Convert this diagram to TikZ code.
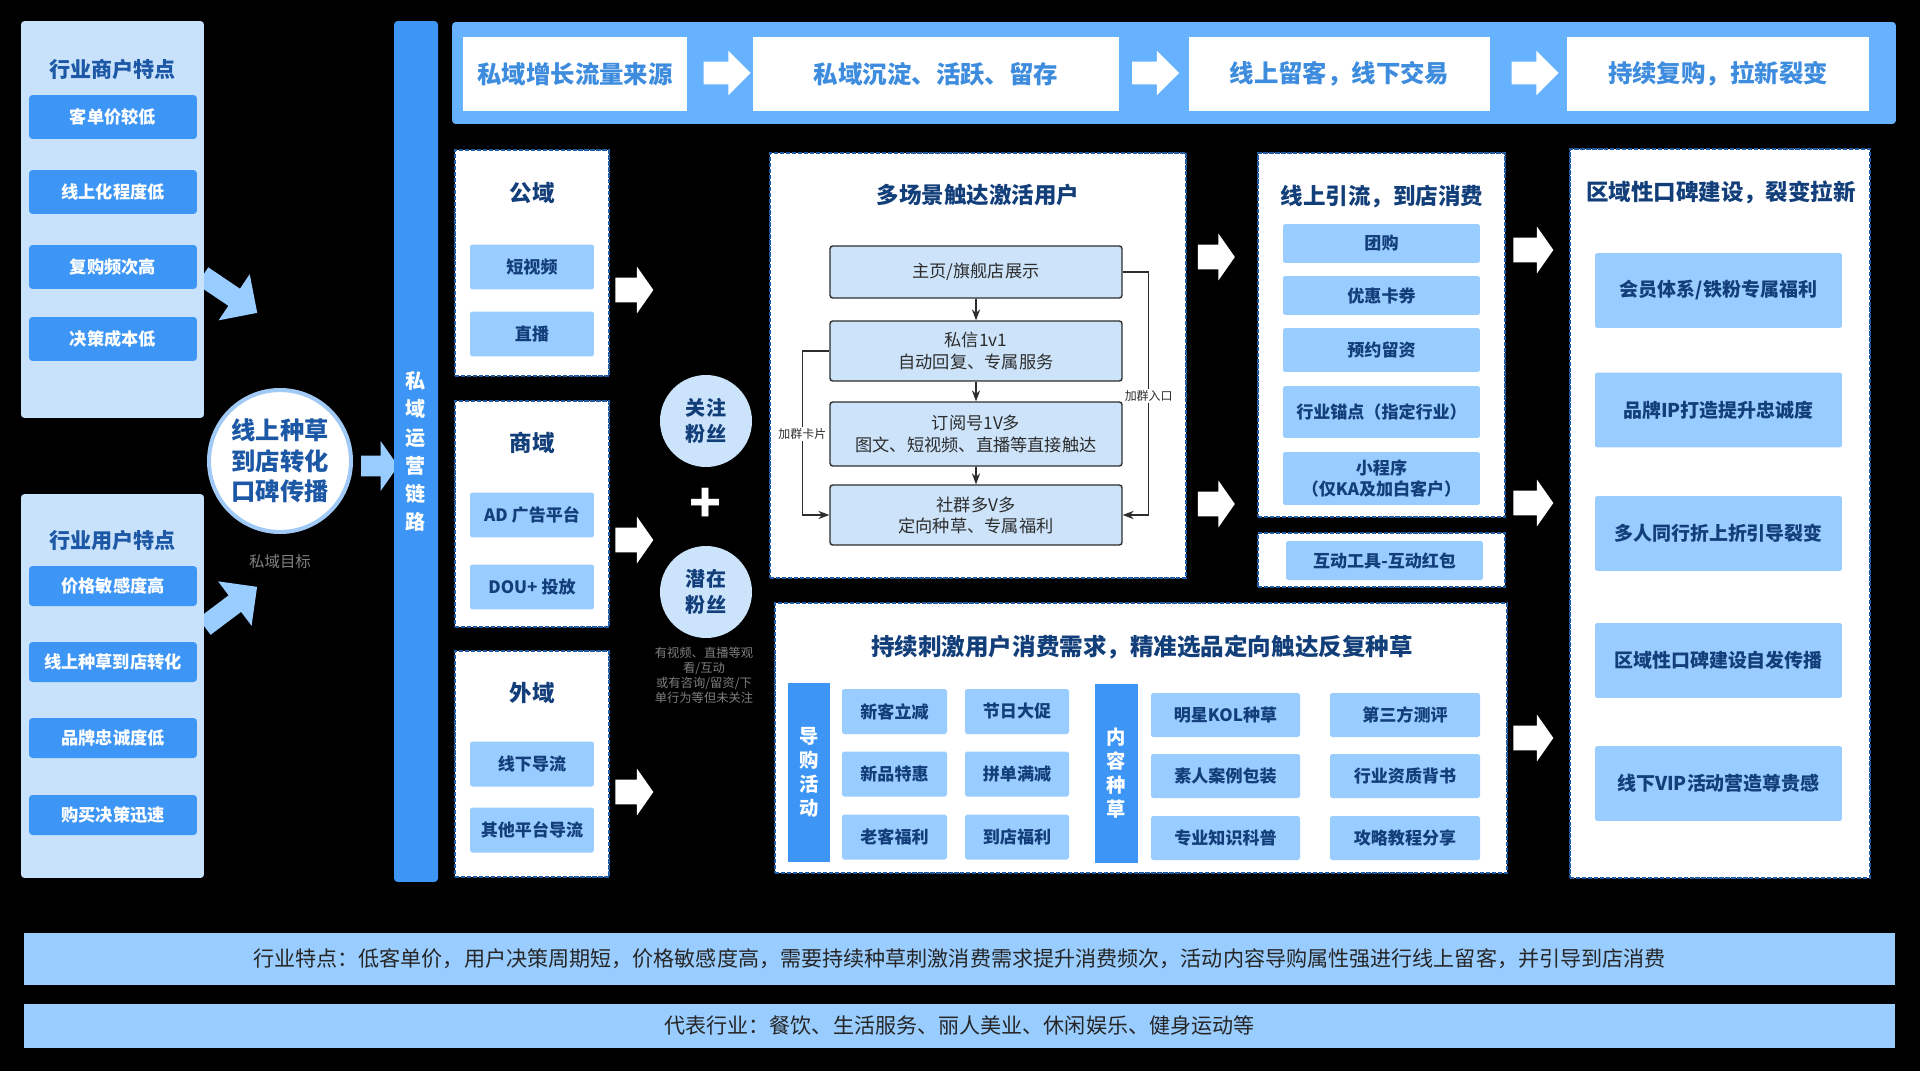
\documentclass[tikz,border=0pt]{standalone}
\usepackage{fontspec}
\setmainfont{Noto Sans CJK SC}
\usetikzlibrary{positioning,arrows.meta,shapes.arrows}
\definecolor{sidefill}{RGB}{200,226,252}
\definecolor{itemblue}{RGB}{61,150,245}
\definecolor{titleblue}{RGB}{28,88,165}
\definecolor{navy}{RGB}{18,62,122}
\definecolor{chipfill}{RGB}{153,204,255}
\definecolor{stagefill}{RGB}{102,178,255}
\definecolor{stagetext}{RGB}{62,140,222}
\definecolor{zonedraw}{RGB}{32,92,165}
\definecolor{flowfill}{RGB}{204,227,250}
\definecolor{flowdraw}{RGB}{45,45,45}
\definecolor{fanfill}{RGB}{204,228,251}
\definecolor{ringdraw}{RGB}{160,202,245}
\definecolor{notegray}{RGB}{128,128,128}

\begin{document}
\begin{tikzpicture}[x=0.02cm, y=-0.02cm,
  font=\fontsize{9.7}{12}\selectfont,
  sidepanel/.style={fill=sidefill, rounded corners=2pt, minimum width=3.66cm, inner sep=0pt},
  sidetitle/.style={text=titleblue, font=\fontsize{12}{14}\selectfont\bfseries},
  sideitem/.style={fill=itemblue, rounded corners=2pt, text=white, minimum width=3.36cm,
                   inner sep=0pt, font=\fontsize{9.8}{12}\selectfont\bfseries},
  zone/.style={draw=zonedraw, fill=white, line width=1.1pt, dash pattern=on 2.4pt off 1pt,
               inner sep=0pt},
  zonetitle/.style={text=navy, font=\fontsize{12.8}{15}\selectfont\bfseries},
  chip/.style={fill=chipfill, rounded corners=1pt, text=navy, inner sep=0pt, align=center,
               font=\fontsize{9.7}{12.5}\selectfont\bfseries},
  stagebox/.style={fill=white, inner sep=0pt, minimum height=1.48cm, text=stagetext,
                   font=\fontsize{13.9}{16}\selectfont\bfseries},
  flowbox/.style={fill=flowfill, draw=flowdraw, line width=0.8pt, rounded corners=1.5pt,
                  minimum width=5.84cm, inner sep=0pt, align=center, text=flowdraw,
                  font=\fontsize{9.8}{12}\selectfont},
  flowarrow/.style={-{Stealth[length=2.2mm]}, line width=0.7pt, draw=flowdraw},
  sidelabel/.style={fill=white, inner sep=1pt, text=flowdraw, font=\fontsize{6.8}{8}\selectfont},
  fatarrow/.style={single arrow, fill=white, inner xsep=0pt, inner ysep=0.24cm, minimum width=0.92cm,
                   minimum height=0.76cm, single arrow head extend=0.22cm, single arrow tip angle=110},
  softarrow/.style={single arrow, fill=chipfill, inner xsep=0pt, inner ysep=0.2cm, minimum width=1.1cm,
                    minimum height=1.32cm, single arrow head extend=0.35cm},
  vbar/.style={fill=itemblue, text=white, inner sep=0pt, align=center},
  fan/.style={circle, fill=fanfill, minimum size=1.84cm, inner sep=0pt, align=center,
              text=navy, font=\fontsize{11.4}{14.6}\selectfont\bfseries},
  banner/.style={fill=chipfill, minimum width=37.42cm, inner sep=0pt, text=black!85,
                 font=\fontsize{12}{14}\selectfont}
]
\useasboundingbox (0,0) rectangle (1920,1071);
\fill[black] (0,0) rectangle (1920,1071);

% Left: traits, feeding the goal
\node[softarrow, rotate=-34] (marrow) at (225.6,291.5) {};
\node[softarrow, rotate=37] (uarrow) at (226.6,609.8) {};

\node[sidepanel, minimum height=7.94cm] (merch) at (112.5,219.5) {};
\node[sidetitle] (merchtitle) at (112.5,70) {行业商户特点};
\node[sideitem, minimum height=0.88cm] (m1) at (113,117) {客单价较低};
\node[sideitem, minimum height=0.88cm] (m2) at (113,192) {线上化程度低};
\node[sideitem, minimum height=0.88cm] (m3) at (113,267) {复购频次高};
\node[sideitem, minimum height=0.88cm] (m4) at (113,339) {决策成本低};

\node[sidepanel, minimum height=7.68cm] (user) at (112.5,686) {};
\node[sidetitle] (usertitle) at (112.5,541) {行业用户特点};
\node[sideitem, minimum height=0.8cm] (u1) at (113,586) {价格敏感度高};
\node[sideitem, minimum height=0.8cm] (u2) at (113,662) {线上种草到店转化};
\node[sideitem, minimum height=0.8cm] (u3) at (113,738) {品牌忠诚度低};
\node[sideitem, minimum height=0.8cm] (u4) at (113,815) {购买决策迅速};

% Goal
\node[circle, fill=white, draw=ringdraw, line width=2.3pt, minimum size=2.84cm, inner sep=0pt,
      align=center, text=titleblue, font=\fontsize{13.8}{17.4}\selectfont\bfseries]
  (goal) at (280,461) {线上种草\\到店转化\\口碑传播};
\node[text=notegray, font=\fontsize{8.8}{10}\selectfont] (goalnote) at (280,562) {私域目标};
\node[softarrow, minimum width=0.98cm, minimum height=0.74cm, single arrow head extend=0.29cm,
      single arrow tip angle=110] (garrow) at (376,466) {};

\node[vbar, minimum width=0.88cm, minimum height=17.22cm, rounded corners=2pt,
      font=\fontsize{11.4}{16}\selectfont\bfseries] (chain) at (416,451.5)
  {私\\域\\运\\营\\链\\路};

% Top: stages of the private-domain chain
\node[fill=stagefill, rounded corners=2pt, minimum width=28.88cm, minimum height=2.04cm]
  (stagebar) at (1174,73) {};
\node[stagebox, minimum width=4.48cm] (s1) at (575,74) {私域增长流量来源};
\node[stagebox, minimum width=7.32cm] (s2) at (936,74) {私域沉淀、活跃、留存};
\node[stagebox, minimum width=6.02cm] (s3) at (1339.5,74) {线上留客，线下交易};
\node[stagebox, minimum width=6.04cm] (s4) at (1718,74) {持续复购，拉新裂变};
\node[fatarrow, inner ysep=0.22cm, minimum width=0.88cm, minimum height=0.94cm, single arrow tip angle=90] (sa1) at (721.5,73) {};
\node[fatarrow, inner ysep=0.22cm, minimum width=0.88cm, minimum height=0.94cm, single arrow tip angle=90] (sa2) at (1150,73) {};
\node[fatarrow, inner ysep=0.22cm, minimum width=0.88cm, minimum height=0.94cm, single arrow tip angle=90] (sa3) at (1529.5,73) {};

% Traffic sources
\node[zone, minimum width=3.08cm, minimum height=4.52cm] (pub) at (532,263) {};
\node[zonetitle] (pubtitle) at (532,193) {公域};
\node[chip, minimum width=2.48cm, minimum height=0.9cm] (pub1) at (532,267) {短视频};
\node[chip, minimum width=2.48cm, minimum height=0.9cm] (pub2) at (532,334) {直播};

\node[zone, minimum width=3.08cm, minimum height=4.52cm] (mall) at (532,514) {};
\node[zonetitle] (malltitle) at (532,443) {商域};
\node[chip, minimum width=2.48cm, minimum height=0.9cm] (mall1) at (532,515) {AD 广告平台};
\node[chip, minimum width=2.48cm, minimum height=0.9cm] (mall2) at (532,587) {DOU+ 投放};

\node[zone, minimum width=3.08cm, minimum height=4.52cm] (ext) at (532,764) {};
\node[zonetitle] (exttitle) at (532,693) {外域};
\node[chip, minimum width=2.48cm, minimum height=0.9cm] (ext1) at (532,764) {线下导流};
\node[chip, minimum width=2.48cm, minimum height=0.9cm] (ext2) at (532,830) {其他平台导流};

\node[fatarrow] (pa1) at (630,290) {};
\node[fatarrow] (pa2) at (630,540) {};
\node[fatarrow] (pa3) at (630,792) {};

% Fans
\node[fan] (fan1) at (706,421) {关注\\粉丝};
\node[text=white, font=\fontsize{30}{30}\selectfont\bfseries] (plus) at (706,505) {+};
\node[fan] (fan2) at (706,592) {潜在\\粉丝};
\node[text=notegray, align=center, font=\fontsize{7}{8.5}\selectfont] (fannote) at (704,675)
  {有视频、直播等观\\看/互动\\或有咨询/留资/下\\单行为等但未关注};

% Multi-scene reach
\node[zone, minimum width=8.32cm, minimum height=8.5cm] (reach) at (978,365.5) {};
\node[zonetitle] (reachtitle) at (978,195) {多场景触达激活用户};
\node[flowbox, minimum height=1.04cm] (f1) at (976,272) {主页/旗舰店展示};
\node[flowbox, minimum height=1.2cm] (f2) at (976,351) {私信1v1\\自动回复、专属服务};
\node[flowbox, minimum height=1.28cm] (f3) at (976,434) {订阅号1V多\\图文、短视频、直播等直接触达};
\node[flowbox, minimum height=1.2cm] (f4) at (976,515) {社群多V多\\定向种草、专属福利};
\draw[flowarrow] (f1) -- (f2);
\draw[flowarrow] (f2) -- (f3);
\draw[flowarrow] (f3) -- (f4);
\draw[flowarrow] (f2.west) -- ++(-27,0) |- node[sidelabel, pos=0.253] {加群卡片} (f4.west);
\draw[flowarrow] (f1.east) -- ++(26,0) |- node[sidelabel, pos=0.255] {加群入口} (f4.east);

\node[fatarrow, minimum height=0.74cm] (ra1) at (1212,257) {};
\node[fatarrow, minimum height=0.74cm] (ra2) at (1212,504) {};

% Online to offline
\node[zone, minimum width=4.94cm, minimum height=7.28cm] (guide) at (1381.5,335) {};
\node[zonetitle] (guidetitle) at (1382,197) {线上引流，到店消费};
\node[chip, minimum width=3.94cm, minimum height=0.78cm] (g1) at (1381.5,243.5) {团购};
\node[chip, minimum width=3.94cm, minimum height=0.78cm] (g2) at (1381.5,295.5) {优惠卡券};
\node[chip, minimum width=3.94cm, minimum height=0.88cm] (g3) at (1381.5,350) {预约留资};
\node[chip, minimum width=3.94cm, minimum height=1.04cm] (g4) at (1381.5,412) {行业锚点（指定行业）};
\node[chip, minimum width=3.94cm, minimum height=1.06cm] (g5) at (1381.5,478.5) {小程序\\（仅KA及加白客户）};
\node[zone, minimum width=4.94cm, minimum height=1.08cm] (tool) at (1381.5,560) {};
\node[chip, minimum width=3.94cm, minimum height=0.78cm] (tool1) at (1384.5,560.5) {互动工具-互动红包};

\node[fatarrow, minimum height=0.8cm] (ga1) at (1529,250) {};
\node[fatarrow, minimum height=0.8cm] (ga2) at (1529,503) {};
\node[fatarrow, minimum height=0.8cm] (ga3) at (1529,738) {};

% Word of mouth
\node[zone, minimum width=6cm, minimum height=14.58cm] (wom) at (1720,513.5) {};
\node[zonetitle] (womtitle) at (1721,192) {区域性口碑建设，裂变拉新};
\node[chip, minimum width=4.94cm, minimum height=1.5cm, font=\fontsize{10.8}{13}\selectfont\bfseries] (w1) at (1718.5,290.5) {会员体系/铁粉专属福利};
\node[chip, minimum width=4.94cm, minimum height=1.5cm, font=\fontsize{10.8}{13}\selectfont\bfseries] (w2) at (1718.5,410) {品牌IP打造提升忠诚度};
\node[chip, minimum width=4.94cm, minimum height=1.5cm, font=\fontsize{10.8}{13}\selectfont\bfseries] (w3) at (1718.5,533.5) {多人同行折上折引导裂变};
\node[chip, minimum width=4.94cm, minimum height=1.5cm, font=\fontsize{10.8}{13}\selectfont\bfseries] (w4) at (1718.5,660.5) {区域性口碑建设自发传播};
\node[chip, minimum width=4.94cm, minimum height=1.5cm, font=\fontsize{10.8}{13}\selectfont\bfseries] (w5) at (1718.5,783.5) {线下VIP活动营造尊贵感};

% Repeated seeding
\node[zone, minimum width=14.64cm, minimum height=5.4cm] (seed) at (1141,738) {};
\node[zonetitle, font=\fontsize{13.4}{15}\selectfont\bfseries] (seedtitle) at (1142,647) {持续刺激用户消费需求，精准选品定向触达反复种草};
\node[vbar, minimum width=0.84cm, minimum height=3.58cm, font=\fontsize{11}{13.7}\selectfont\bfseries] (bar1) at (809,772.5) {导\\购\\活\\动};
\node[chip, minimum width=2.1cm, minimum height=0.9cm] (a1) at (894.5,711.5) {新客立减};
\node[chip, minimum width=2.08cm, minimum height=0.9cm] (a2) at (1017,711.5) {节日大促};
\node[chip, minimum width=2.1cm, minimum height=0.9cm] (a3) at (894.5,774) {新品特惠};
\node[chip, minimum width=2.08cm, minimum height=0.9cm] (a4) at (1017,774) {拼单满减};
\node[chip, minimum width=2.1cm, minimum height=0.9cm] (a5) at (894.5,837) {老客福利};
\node[chip, minimum width=2.08cm, minimum height=0.9cm] (a6) at (1017,837) {到店福利};
\node[vbar, minimum width=0.86cm, minimum height=3.58cm, font=\fontsize{11}{13.7}\selectfont\bfseries] (bar2) at (1116.5,773.5) {内\\容\\种\\草};
\node[chip, minimum width=2.98cm, minimum height=0.88cm] (c1) at (1225.5,715) {明星KOL种草};
\node[chip, minimum width=3cm, minimum height=0.88cm] (c2) at (1405,715) {第三方测评};
\node[chip, minimum width=2.98cm, minimum height=0.88cm] (c3) at (1225.5,776) {素人案例包装};
\node[chip, minimum width=3cm, minimum height=0.88cm] (c4) at (1405,776) {行业资质背书};
\node[chip, minimum width=2.98cm, minimum height=0.88cm] (c5) at (1225.5,838) {专业知识科普};
\node[chip, minimum width=3cm, minimum height=0.88cm] (c6) at (1405,838) {攻略教程分享};

% Bottom notes
\node[banner, minimum height=1.04cm] (info1) at (959.5,959)
  {行业特点：低客单价，用户决策周期短，价格敏感度高，需要持续种草刺激消费需求提升消费频次，活动内容导购属性强进行线上留客，并引导到店消费};
\node[banner, minimum height=0.88cm] (info2) at (959.5,1026)
  {代表行业：餐饮、生活服务、丽人美业、休闲娱乐、健身运动等};

\end{tikzpicture}
\end{document}
